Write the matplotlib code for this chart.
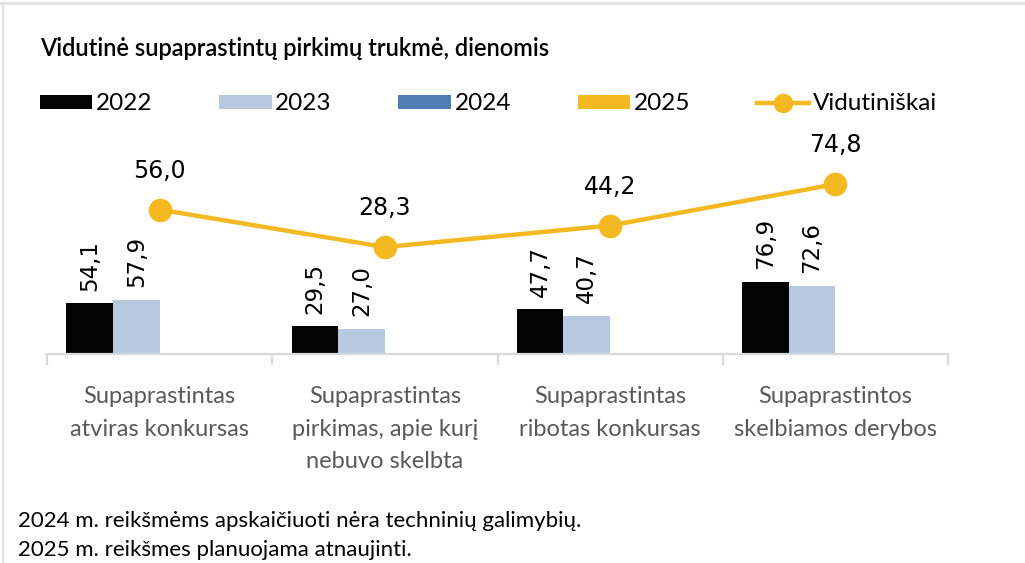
#!/usr/bin/env python3
import numpy as np
import matplotlib
matplotlib.use("Agg")
import matplotlib.pyplot as plt
from matplotlib.patches import Patch
from matplotlib.lines import Line2D

# Data
categories = [
    "Supaprastintas\natviras konkursas",
    "Supaprastintas\npirkimas, apie kurį\nnebuvo skelbta",
    "Supaprastintas\nribotas konkursas",
    "Supaprastintos\nskelbiamos derybos",
]
years = ["2022", "2023", "2024", "2025"]
values_2022 = [54.1, 29.5, 47.7, 76.9]
values_2023 = [57.9, 27.0, 40.7, 72.6]
values_2024 = [np.nan, np.nan, np.nan, np.nan]
values_2025 = [np.nan, np.nan, np.nan, np.nan]
average = [56.0, 28.3, 44.2, 74.8]
average_label = "Vidutiniškai"

title = "Vidutinė supaprastintų pirkimų trukmė, dienomis"
notes = [
    "2024 m. reikšmėms apskaičiuoti nėra techninių galimybių.",
    "2025 m. reikšmes planuojama atnaujinti.",
]

colors = ["#030303", "#B7C9E0", "#4E7DB4", "#F4B921"]
line_color = "#F4B921"
text_font = ["Lato", "DejaVu Sans"]


def fmt(v):
    return f"{v:.1f}".replace(".", ",")


W, H = 1025, 563
fig = plt.figure(figsize=(W / 100, H / 100), dpi=100)

# light frame lines at top and left
fig.add_artist(Line2D([0, 1], [1 - 2.5 / H, 1 - 2.5 / H], color="#E3E3E3", lw=2.2,
                      transform=fig.transFigure))
fig.add_artist(Line2D([3 / W, 3 / W], [0, 1 - 2.5 / H], color="#E3E3E3", lw=1.6,
                      transform=fig.transFigure))

ax = fig.add_axes([47 / W, (H - 354) / H, (948 - 47) / W, (354 - 130) / H])
ax.set_zorder(1)
ax.patch.set_visible(False)

x = np.arange(len(categories))
bw = 0.207
series = [values_2022, values_2023, values_2024, values_2025]
for i, (vals, col) in enumerate(zip(series, colors)):
    offs = (i - 1.5) * bw
    ax.bar(x + offs, vals, bw, color=col, zorder=2)
    for xi, v in zip(x, vals):
        if np.isnan(v):
            continue
        ax.annotate(fmt(v), (xi + offs, v), xytext=(0, 9), textcoords="offset points",
                    rotation=90, ha="center", va="bottom", fontsize=16.5,
                    family="DejaVu Sans", color="black")

ax.set_xlim(-0.5, len(categories) - 0.5)
ax.set_ylim(0, 238)
ax.set_yticks([])
for s in ["top", "right", "left"]:
    ax.spines[s].set_visible(False)
ax.spines["bottom"].set_color("#D9D9D9")
ax.spines["bottom"].set_linewidth(1.6)

ax.set_xticks(np.arange(len(categories) + 1) - 0.5)
ax.set_xticklabels([])
ax.tick_params(axis="x", which="major", length=8, width=1.6, color="#D9D9D9")
ax.set_xticks(x, minor=True)
ax.set_xticklabels(categories, minor=True, fontsize=17, color="#595959",
                   family=text_font, linespacing=1.68)
ax.tick_params(axis="x", which="minor", length=0, pad=23)

# average line on secondary axis
ax2 = ax.twinx()
ax2.set_zorder(2)
ax2.plot(x, average, color=line_color, lw=3.2, marker="o", markersize=16,
         solid_capstyle="round")
for xi, v in zip(x, average):
    ax2.annotate(fmt(v), (xi, v), xytext=(0, 28), textcoords="offset points",
                 ha="center", va="center", fontsize=17, family="DejaVu Sans")
ax2.set_ylim(-50.7, 114.8)
ax2.set_yticks([])
for s in ["top", "right", "left", "bottom"]:
    ax2.spines[s].set_visible(False)

# legend
handles = [Patch(facecolor=c, edgecolor="none") for c in colors]
handles.append(Line2D([], [], color=line_color, lw=3.2, marker="o", markersize=13))
fig.legend(handles, years + [average_label], loc="center left",
           bbox_to_anchor=(40 / W, 1 - 104 / H), ncol=5, frameon=False,
           prop={"family": text_font, "size": 17.5},
           handlelength=2.15, handleheight=0.55, handletextpad=0.15,
           columnspacing=2.75, borderpad=0, borderaxespad=0)

fig.text(40 / W, 1 - 48 / H, title, fontsize=17, family=text_font,
         weight="semibold", va="center", ha="left")
for i, note in enumerate(notes):
    fig.text(18 / W, 1 - (521 + 29 * i) / H, note, fontsize=16, family=text_font,
             va="center", ha="left")

fig.savefig("out.png", dpi=100)
